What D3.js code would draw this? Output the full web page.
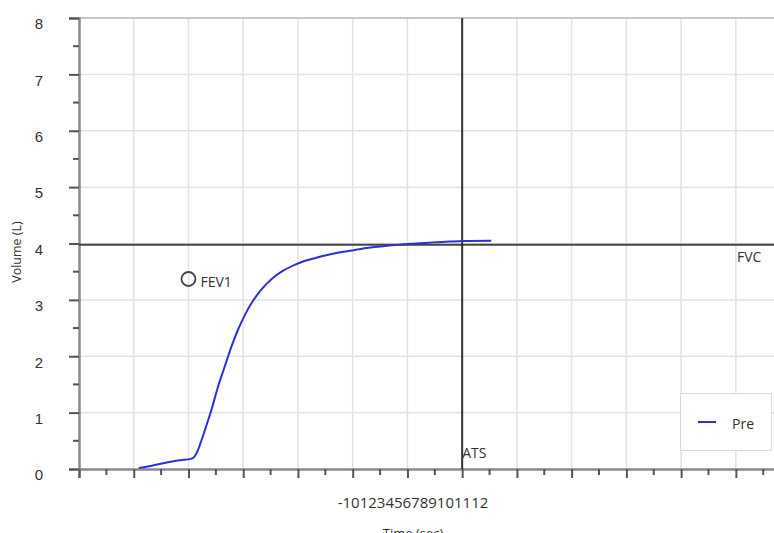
<!DOCTYPE html>
<html><head><meta charset="utf-8">
<script src="https://cdn.jsdelivr.net/npm/d3@7"></script>
<style>body{margin:0;background:#fff}svg{display:block;font-family:"Open Sans",sans-serif}</style>
</head><body><svg id="c" width="774" height="533"></svg>
<script>
const xTicks = [-1,0,1,2,3,4,5,6,7,8,9,10,11,12];
const yTicks = [0,1,2,3,4,5,6,7,8];
const preTime = [0.09,0.29,0.47,0.80,1.04,1.09,1.13,1.175,1.30,1.42,1.54,1.66,1.785,1.905,2.03,2.15,2.33,2.52,2.70,2.94,3.12,3.40,3.64,3.95,4.25,4.55,4.86,5.16,5.47,5.77,6.02,6.53];
const preVolume = [0.02,0.05,0.09,0.15,0.18,0.20,0.25,0.34,0.69,1.05,1.46,1.81,2.17,2.47,2.73,2.94,3.18,3.37,3.50,3.62,3.69,3.765,3.82,3.87,3.92,3.95,3.98,4.00,4.02,4.035,4.045,4.05];
const fvcValue = [3.98];
const atsTime = [6];
const fev1Point = [1.0, 3.37];
const seriesNames = ["Pre"];

const svg = d3.select("#c");
const x = d3.scaleLinear().domain([-1,12]).range([79, 790.6]);
const y = d3.scaleLinear().domain([0,8]).range([469, 18]);
const ink = "#333";

// grid
svg.append("g").selectAll("line").data(xTicks.slice(1)).join("line")
  .attr("x1", d=>x(d)).attr("x2", d=>x(d)).attr("y1", y(8)).attr("y2", y(0))
  .attr("stroke", "#e2e2e2").attr("stroke-width", 1.5);
svg.append("g").selectAll("line").data(yTicks.slice(1)).join("line")
  .attr("x1", x(-1)).attr("x2", 774).attr("y1", d=>y(d)).attr("y2", d=>y(d))
  .attr("stroke", d=> d===8 ? "#c8c8c8" : "#e2e2e2").attr("stroke-width", d=> d===8 ? 2 : 1.5);

// y axis
const yMinor = d3.range(0.5, 8, 1);
const yAxis = svg.append("g").attr("transform", `translate(${x(-1)},0)`)
  .call(d3.axisLeft(y).tickValues(yTicks).tickSize(10).tickPadding(30).tickFormat(d3.format("d")));
yAxis.select(".domain").attr("stroke", "#8a8a8a").attr("stroke-width", 2.5);
yAxis.selectAll(".tick line").attr("stroke", "#555").attr("stroke-width", 2);
yAxis.selectAll(".tick text").attr("fill", ink).style("font-size", "15px").attr("dy", "0.72em").attr("text-anchor","middle");
svg.append("g").selectAll("line").data(yMinor).join("line")
  .attr("x1", x(-1)-6).attr("x2", x(-1)).attr("y1", d=>y(d)).attr("y2", d=>y(d))
  .attr("stroke", "#555").attr("stroke-width", 2);

// x axis
const xMinor = d3.range(-0.5, 12, 1);
const xAxis = svg.append("g").attr("transform", `translate(0,${y(0)})`)
  .call(d3.axisBottom(x).tickValues(xTicks).tickSize(9).tickFormat(""));
xAxis.select(".domain").attr("stroke", "#8a8a8a").attr("stroke-width", 2.5);
xAxis.selectAll(".tick line").attr("stroke", "#555").attr("stroke-width", 2);
svg.append("g").selectAll("line").data(xMinor).join("line")
  .attr("x1", d=>x(d)).attr("x2", d=>x(d)).attr("y1", y(0)).attr("y2", y(0)+6)
  .attr("stroke", "#555").attr("stroke-width", 2);

// collapsed tick labels
svg.append("text").attr("x", 413).attr("y", 508).attr("text-anchor","middle")
  .attr("fill", ink).style("font-size","15px").text(xTicks.join(""));
svg.append("text").attr("x", 413).attr("y", 538).attr("text-anchor","middle")
  .attr("fill", ink).style("font-size","13px").text("Time (sec)");
svg.append("text").attr("transform", "translate(21,252) rotate(-90)").attr("text-anchor","middle")
  .attr("fill", ink).style("font-size","12.5px").text("Volume (L)");

// FVC line
svg.append("line").attr("x1", x(-1)).attr("x2", 774).attr("y1", y(fvcValue[0])).attr("y2", y(fvcValue[0]))
  .attr("stroke", "#444").attr("stroke-width", 2);
svg.append("text").attr("x", 737).attr("y", 262).attr("fill", ink).style("font-size","14px").text("FVC");

// ATS line
svg.append("line").attr("x1", x(atsTime[0])).attr("x2", x(atsTime[0])).attr("y1", y(8)).attr("y2", y(0))
  .attr("stroke", "#333").attr("stroke-width", 2);
svg.append("text").attr("x", x(atsTime[0])).attr("y", 458).attr("fill", ink).style("font-size","14px").text("ATS");

// curve
const pts = preTime.map((t,i)=>[t, preVolume[i]]);
svg.append("path").datum(pts)
  .attr("d", d3.line().x(d=>x(d[0])).y(d=>y(d[1])).curve(d3.curveCatmullRom.alpha(0.5)))
  .attr("fill","none").attr("stroke","#2f2fd8").attr("stroke-width",2);

// FEV1
svg.append("circle").attr("cx", x(fev1Point[0])).attr("cy", y(fev1Point[1])).attr("r", 7)
  .attr("fill","none").attr("stroke","#444").attr("stroke-width",1.8);
svg.append("text").attr("x", x(fev1Point[0])+12).attr("y", y(fev1Point[1])+8).attr("fill", ink)
  .style("font-size","14px").text("FEV1");

// legend
const lg = svg.append("g");
lg.append("rect").attr("x",680.5).attr("y",393.5).attr("width",91).attr("height",57)
  .attr("fill","#fff").attr("stroke","#dadada").attr("stroke-width",1);
lg.append("line").attr("x1",698).attr("x2",716).attr("y1",422).attr("y2",422)
  .attr("stroke","#2f2fd8").attr("stroke-width",2);
lg.append("text").attr("x",732).attr("y",429).attr("fill",ink).style("font-size","14px").text(seriesNames[0]);
</script></body></html>
